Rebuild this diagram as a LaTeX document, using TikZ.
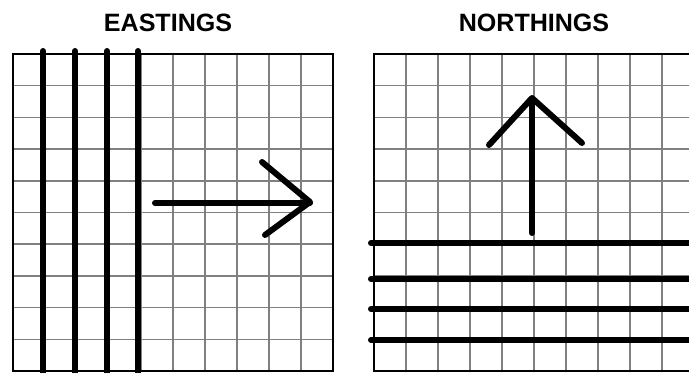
\documentclass[tikz,border=0pt]{standalone}
\usepackage{fontspec}
\setmainfont{Liberation Sans}
\begin{document}
\begin{tikzpicture}[x=0.75pt,y=-0.75pt,
  gridline/.style={draw=black!50, line width=1.1pt},
  frame/.style={draw=black, line width=2.2pt},
  thick line/.style={draw=black, line width=4.5pt, line cap=round, line join=round},
  title/.style={font=\bfseries\fontsize{18.8pt}{20pt}\selectfont, anchor=base, inner sep=0pt}]
\useasboundingbox (0,0) rectangle (689,373);
\clip (0,0) rectangle (689,373);
\fill[white] (0,0) rectangle (689,373);
% titles
\node[title] (east) at (168,32) {EASTINGS};
\node[title] (north) at (534,32) {NORTHINGS};
% left grid
\foreach \i in {1,...,9} {
  \draw[gridline] (13+32*\i,54) -- (13+32*\i,371);
  \draw[gridline] (13,54+31.7*\i) -- (333,54+31.7*\i);
}
\draw[frame] (13,54) rectangle (333,371);
% right grid
\foreach \i in {1,...,10} {
  \draw[gridline] (374+32*\i,54) -- (374+32*\i,371);
}
\foreach \i in {1,...,9} {
  \draw[gridline] (374,54+31.7*\i) -- (700,54+31.7*\i);
}
\draw[frame] (700,54) -- (374,54) -- (374,371) -- (700,371);
% eastings thick lines
\foreach \x in {43,75,107,138} {
  \draw[thick line] (\x,51) -- (\x,380);
}
% east arrow
\draw[thick line] (155,203) -- (310,203);
\draw[thick line] (262,162) -- (310,202) -- (265,235);
% northings thick lines
\foreach \y in {243,279,309,340} {
  \draw[thick line] (371,\y) -- (700,\y);
}
% north arrow
\draw[thick line] (532,233) -- (532,99);
\draw[thick line] (489,145) -- (532,98) -- (582,143);
\end{tikzpicture}
\end{document}
